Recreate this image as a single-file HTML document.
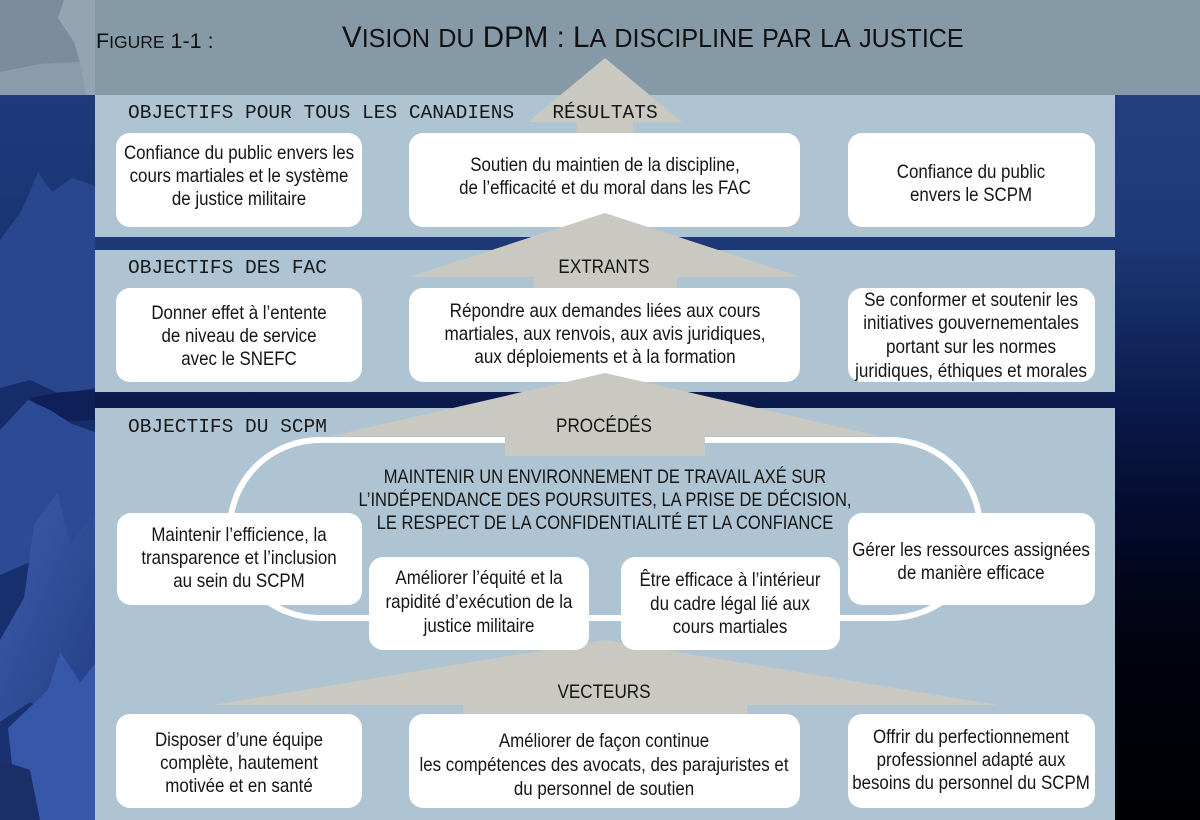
<!DOCTYPE html>
<html>
<head>
<meta charset="utf-8">
<style>
html,body{margin:0;padding:0;background:#000;}
body{width:1200px;height:820px;overflow:hidden;}
svg{display:block;}
.t{font-family:"Liberation Sans","DejaVu Sans",sans-serif;font-size:19px;fill:#151515;text-anchor:middle;}
.m{font-family:"Liberation Mono","DejaVu Sans Mono",monospace;font-size:19.5px;fill:#181818;}
.h{font-family:"Liberation Sans","DejaVu Sans",sans-serif;fill:#111;}
</style>
</head>
<body>
<svg width="1200" height="820" viewBox="0 0 1200 820" xmlns="http://www.w3.org/2000/svg">
  <defs>
    <linearGradient id="bg" gradientUnits="userSpaceOnUse" x1="0" y1="95" x2="0" y2="820">
      <stop offset="0" stop-color="#233f7e"/>
      <stop offset="0.2" stop-color="#1e3977"/>
      <stop offset="0.42" stop-color="#0b1b4d"/>
      <stop offset="0.58" stop-color="#040b2c"/>
      <stop offset="0.75" stop-color="#01030f"/>
      <stop offset="1" stop-color="#000004"/>
    </linearGradient>
    <linearGradient id="lbg" gradientUnits="userSpaceOnUse" x1="0" y1="95" x2="0" y2="820">
      <stop offset="0" stop-color="#1f3b7c"/>
      <stop offset="0.4" stop-color="#162d69"/>
      <stop offset="1" stop-color="#1b3272"/>
    </linearGradient>
    <linearGradient id="leafg" x1="0" y1="0" x2="1" y2="1">
      <stop offset="0" stop-color="#3c5cac"/>
      <stop offset="1" stop-color="#253f86"/>
    </linearGradient>
  </defs>

  <!-- background -->
  <rect x="0" y="0" width="1200" height="820" fill="url(#bg)"/>
  <rect x="0" y="95" width="95" height="725" fill="url(#lbg)"/>
  <!-- left leaves -->
  <polygon points="0,240 22,210 38,172 52,192 72,178 95,186 95,388 60,394 30,380 0,388" fill="#29468f"/>
  <polygon points="30,398 62,392 95,390 95,420 55,422" fill="#0e2057"/>
  <polygon points="0,430 28,400 50,410 72,424 95,432 95,560 62,580 30,562 0,575" fill="#2c4a96"/>
  <polygon points="0,640 24,598 34,525 58,492 70,545 95,512 95,700 60,718 30,702 0,722" fill="url(#leafg)"/>
  <polygon points="8,728 48,690 60,652 80,682 95,664 95,820 18,820" fill="#3757a8"/>
  <polygon points="0,760 30,770 40,820 0,820" fill="#1a2e68"/>

  <!-- header -->
  <rect x="0" y="0" width="1200" height="95" fill="#8599a7"/>
  <polygon points="0,0 64,0 58,18 74,42 80,62 40,64 0,72" fill="#7a8c9c"/>
  <polygon points="64,0 95,0 95,95 86,95 80,62 74,42 58,18" fill="#93a5b3"/>
  <polygon points="0,72 40,64 80,62 86,95 0,95" fill="#8a9cab"/>

  <!-- panels -->
  <rect x="95" y="95" width="1020" height="142" fill="#aec4d2"/>
  <rect x="95" y="250" width="1020" height="142" fill="#aec4d2"/>
  <rect x="95" y="408" width="1020" height="412" fill="#aec4d2"/>

  <!-- arrow 1 -->
  <polygon points="605,58 682,122 633,122 633,134 577,134 577,122 528,122" fill="#c9c9c1"/>

  <!-- row 1 boxes -->
  <rect x="116" y="133" width="246" height="94" rx="14" fill="#fff"/>
  <rect x="409" y="133" width="391" height="94" rx="14" fill="#fff"/>
  <rect x="848" y="133" width="247" height="94" rx="14" fill="#fff"/>

  <!-- arrow 2 -->
  <polygon points="605,213 801,277 677,277 677,289 534,289 534,277 409,277" fill="#c9c9c1"/>

  <!-- row 2 boxes -->
  <rect x="116" y="288" width="246" height="94" rx="14" fill="#fff"/>
  <rect x="409" y="288" width="391" height="94" rx="14" fill="#fff"/>
  <rect x="848" y="288" width="247" height="94" rx="14" fill="#fff"/>

  <!-- oval -->
  <rect x="230" y="440" width="750" height="178" rx="90" ry="89" fill="none" stroke="#fff" stroke-width="6"/>

  <!-- arrow 3 -->
  <polygon points="605,373 879,436 705,436 705,456 505,456 505,436 331,436" fill="#c9c9c1"/>

  <!-- arrow 4 -->
  <polygon points="605,640 997,705 747,705 747,715 463,715 463,705 213,705" fill="#c9c9c1"/>

  <!-- row 3 boxes -->
  <rect x="117" y="513" width="245" height="92" rx="14" fill="#fff"/>
  <rect x="848" y="513" width="247" height="92" rx="14" fill="#fff"/>
  <rect x="369" y="557" width="220" height="93" rx="14" fill="#fff"/>
  <rect x="621" y="557" width="219" height="93" rx="14" fill="#fff"/>

  <!-- row 4 boxes -->
  <rect x="116" y="714" width="246" height="94" rx="14" fill="#fff"/>
  <rect x="409" y="714" width="391" height="94" rx="14" fill="#fff"/>
  <rect x="848" y="714" width="247" height="94" rx="14" fill="#fff"/>

  <!-- header text -->
  <text class="h" x="96" y="48"><tspan font-size="21.5">F</tspan><tspan font-size="17.5">IGURE</tspan><tspan font-size="21.5"> 1-1 :</tspan></text>
  <g transform="translate(342,0) scale(0.985,1)">
    <text class="h" x="0" y="47"><tspan font-size="30">V</tspan><tspan font-size="25.5">ISION</tspan><tspan font-size="30"> </tspan><tspan font-size="25.5">DU</tspan><tspan font-size="30"> DPM : L</tspan><tspan font-size="25.5">A</tspan><tspan font-size="30"> </tspan><tspan font-size="25.5">DISCIPLINE</tspan><tspan font-size="30"> </tspan><tspan font-size="25.5">PAR</tspan><tspan font-size="30"> </tspan><tspan font-size="25.5">LA</tspan><tspan font-size="30"> </tspan><tspan font-size="25.5">JUSTICE</tspan></text>
  </g>

  <!-- section labels -->
  <text class="m" x="128" y="118">OBJECTIFS POUR TOUS LES CANADIENS</text>
  <text class="m" x="605" y="118" text-anchor="middle">RÉSULTATS</text>
  <text class="m" x="128" y="273">OBJECTIFS DES FAC</text>
  <text class="m" x="128" y="432">OBJECTIFS DU SCPM</text>

  <g transform="translate(604,0) scale(0.9,1)" class="t">
    <text x="0" y="273">EXTRANTS</text>
    <text x="0" y="432">PROCÉDÉS</text>
    <text x="0" y="698">VECTEURS</text>
  </g>

  <!-- row 1 text -->
  <g transform="translate(239,0) scale(0.89,1)" class="t">
    <text x="0" y="159">Confiance du public envers les</text>
    <text x="0" y="182">cours martiales et le système</text>
    <text x="0" y="205">de justice militaire</text>
  </g>
  <g transform="translate(605,0) scale(0.89,1)" class="t">
    <text x="0" y="171">Soutien du maintien de la discipline,</text>
    <text x="0" y="194">de l’efficacité et du moral dans les FAC</text>
  </g>
  <g transform="translate(971,0) scale(0.89,1)" class="t">
    <text x="0" y="178">Confiance du public</text>
    <text x="0" y="201">envers le SCPM</text>
  </g>

  <!-- row 2 text -->
  <g transform="translate(239,0) scale(0.89,1)" class="t">
    <text x="0" y="319">Donner effet à l’entente</text>
    <text x="0" y="342">de niveau de service</text>
    <text x="0" y="365">avec le SNEFC</text>
  </g>
  <g transform="translate(605,0) scale(0.9,1)" class="t">
    <text x="0" y="317">Répondre aux demandes liées aux cours</text>
    <text x="0" y="340">martiales, aux renvois, aux avis juridiques,</text>
    <text x="0" y="363">aux déploiements et à la formation</text>
  </g>
  <g transform="translate(971,0) scale(0.9,1)" class="t">
    <text x="0" y="306">Se conformer et soutenir les</text>
    <text x="0" y="329">initiatives gouvernementales</text>
    <text x="0" y="353">portant sur les normes</text>
    <text x="0" y="377">juridiques, éthiques et morales</text>
  </g>

  <!-- oval text -->
  <g transform="translate(605,0) scale(0.87,1)" class="t">
    <text x="0" y="483">MAINTENIR UN ENVIRONNEMENT DE TRAVAIL AXÉ SUR</text>
    <text x="0" y="506">L’INDÉPENDANCE DES POURSUITES, LA PRISE DE DÉCISION,</text>
    <text x="0" y="529">LE RESPECT DE LA CONFIDENTIALITÉ ET LA CONFIANCE</text>
  </g>

  <!-- row 3 text -->
  <g transform="translate(239,0) scale(0.89,1)" class="t">
    <text x="0" y="541">Maintenir l’efficience, la</text>
    <text x="0" y="564">transparence et l’inclusion</text>
    <text x="0" y="587">au sein du SCPM</text>
  </g>
  <g transform="translate(971,0) scale(0.89,1)" class="t">
    <text x="0" y="556">Gérer les ressources assignées</text>
    <text x="0" y="579">de manière efficace</text>
  </g>
  <g transform="translate(479,0) scale(0.89,1)" class="t">
    <text x="0" y="584">Améliorer l’équité et la</text>
    <text x="0" y="608">rapidité d’exécution de la</text>
    <text x="0" y="632">justice militaire</text>
  </g>
  <g transform="translate(730,0) scale(0.89,1)" class="t">
    <text x="0" y="586">Être efficace à l’intérieur</text>
    <text x="0" y="610">du cadre légal lié aux</text>
    <text x="0" y="633">cours martiales</text>
  </g>

  <!-- row 4 text -->
  <g transform="translate(239,0) scale(0.89,1)" class="t">
    <text x="0" y="746">Disposer d’une équipe</text>
    <text x="0" y="769">complète, hautement</text>
    <text x="0" y="792">motivée et en santé</text>
  </g>
  <g transform="translate(604,0) scale(0.89,1)" class="t">
    <text x="0" y="747">Améliorer de façon continue</text>
    <text x="0" y="771">les compétences des avocats, des parajuristes et</text>
    <text x="0" y="795">du personnel de soutien</text>
  </g>
  <g transform="translate(971,0) scale(0.89,1)" class="t">
    <text x="0" y="743">Offrir du perfectionnement</text>
    <text x="0" y="766">professionnel adapté aux</text>
    <text x="0" y="789">besoins du personnel du SCPM</text>
  </g>
</svg>
</body>
</html>
